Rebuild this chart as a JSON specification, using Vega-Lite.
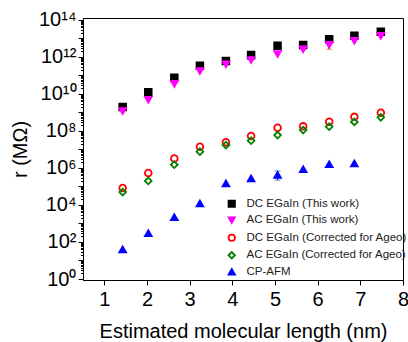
{
  "$schema": "https://vega.github.io/schema/vega-lite/v6.json",
  "width": 320,
  "height": 262,
  "autosize": {"type": "none"},
  "padding": {"left": 83, "top": 18, "right": 5, "bottom": 62},
  "background": "white",
  "config": {
    "view": {"stroke": "black", "strokeWidth": 1},
    "font": "Liberation Sans"
  },
  "datasets": {
    "pts": [
      {"L": 1.43, "series": "DC EGaIn (This work)", "r": 2.0e9},
      {"L": 2.03, "series": "DC EGaIn (This work)", "r": 1.26e10},
      {"L": 2.64, "series": "DC EGaIn (This work)", "r": 7.6e10},
      {"L": 3.24, "series": "DC EGaIn (This work)", "r": 3.4e11},
      {"L": 3.85, "series": "DC EGaIn (This work)", "r": 6.0e11},
      {"L": 4.44, "series": "DC EGaIn (This work)", "r": 1.26e12},
      {"L": 5.06, "series": "DC EGaIn (This work)", "r": 4.0e12},
      {"L": 5.66, "series": "DC EGaIn (This work)", "r": 4.5e12},
      {"L": 6.27, "series": "DC EGaIn (This work)", "r": 9.1e12},
      {"L": 6.86, "series": "DC EGaIn (This work)", "r": 1.41e13},
      {"L": 7.48, "series": "DC EGaIn (This work)", "r": 2.34e13},
      {"L": 1.43, "series": "AC EGaIn (This work)", "r": 1.2e9},
      {"L": 2.03, "series": "AC EGaIn (This work)", "r": 4.9e9},
      {"L": 2.64, "series": "AC EGaIn (This work)", "r": 3.5e10},
      {"L": 3.24, "series": "AC EGaIn (This work)", "r": 1.74e11},
      {"L": 3.85, "series": "AC EGaIn (This work)", "r": 4.0e11},
      {"L": 4.44, "series": "AC EGaIn (This work)", "r": 6.9e11},
      {"L": 5.06, "series": "AC EGaIn (This work)", "r": 1.45e12},
      {"L": 5.66, "series": "AC EGaIn (This work)", "r": 2.6e12},
      {"L": 6.27, "series": "AC EGaIn (This work)", "r": 4.5e12},
      {"L": 6.86, "series": "AC EGaIn (This work)", "r": 7.6e12},
      {"L": 7.48, "series": "AC EGaIn (This work)", "r": 1.38e13},
      {"L": 1.43, "series": "DC EGaIn (Corrected for Ageo)", "r": 8.3e4},
      {"L": 2.03, "series": "DC EGaIn (Corrected for Ageo)", "r": 5.4e5},
      {"L": 2.64, "series": "DC EGaIn (Corrected for Ageo)", "r": 3.3e6},
      {"L": 3.24, "series": "DC EGaIn (Corrected for Ageo)", "r": 1.41e7},
      {"L": 3.85, "series": "DC EGaIn (Corrected for Ageo)", "r": 2.45e7},
      {"L": 4.44, "series": "DC EGaIn (Corrected for Ageo)", "r": 5.4e7},
      {"L": 5.06, "series": "DC EGaIn (Corrected for Ageo)", "r": 1.51e8},
      {"L": 5.66, "series": "DC EGaIn (Corrected for Ageo)", "r": 1.78e8},
      {"L": 6.27, "series": "DC EGaIn (Corrected for Ageo)", "r": 3.2e8},
      {"L": 6.86, "series": "DC EGaIn (Corrected for Ageo)", "r": 5.8e8},
      {"L": 7.48, "series": "DC EGaIn (Corrected for Ageo)", "r": 9.8e8},
      {"L": 1.43, "series": "AC EGaIn (Corrected for Ageo)", "r": 5.0e4},
      {"L": 2.03, "series": "AC EGaIn (Corrected for Ageo)", "r": 2.0e5},
      {"L": 2.64, "series": "AC EGaIn (Corrected for Ageo)", "r": 1.51e6},
      {"L": 3.24, "series": "AC EGaIn (Corrected for Ageo)", "r": 7.6e6},
      {"L": 3.85, "series": "AC EGaIn (Corrected for Ageo)", "r": 1.74e7},
      {"L": 4.44, "series": "AC EGaIn (Corrected for Ageo)", "r": 3.0e7},
      {"L": 5.06, "series": "AC EGaIn (Corrected for Ageo)", "r": 6.0e7},
      {"L": 5.66, "series": "AC EGaIn (Corrected for Ageo)", "r": 1.12e8},
      {"L": 6.27, "series": "AC EGaIn (Corrected for Ageo)", "r": 1.7e8},
      {"L": 6.86, "series": "AC EGaIn (Corrected for Ageo)", "r": 3.1e8},
      {"L": 7.48, "series": "AC EGaIn (Corrected for Ageo)", "r": 5.5e8},
      {"L": 1.43, "series": "CP-AFM", "r": 40},
      {"L": 2.03, "series": "CP-AFM", "r": 295},
      {"L": 2.64, "series": "CP-AFM", "r": 2190},
      {"L": 3.24, "series": "CP-AFM", "r": 1.23e4},
      {"L": 3.85, "series": "CP-AFM", "r": 1.48e5},
      {"L": 4.44, "series": "CP-AFM", "r": 2.75e5},
      {"L": 5.06, "series": "CP-AFM", "r": 4.2e5},
      {"L": 5.66, "series": "CP-AFM", "r": 8.5e5},
      {"L": 6.27, "series": "CP-AFM", "r": 1.58e6},
      {"L": 6.86, "series": "CP-AFM", "r": 1.78e6}
    ],
    "errs": [
      {"L": 6.27, "series": "DC EGaIn (This work)", "lo": 2.6e12, "hi": 1.15e13},
      {"L": 5.06, "series": "CP-AFM", "lo": 2.2e5, "hi": 6.9e5}
    ]
  },
  "layer": [
    {
      "data": {"name": "errs"},
      "mark": {"type": "rule", "strokeWidth": 1.2},
      "encoding": {
        "x": {"field": "L", "type": "quantitative", "scale": {"domain": [0.5, 8]}},
        "y": {"field": "lo", "type": "quantitative", "scale": {"type": "log"}},
        "y2": {"field": "hi"},
        "color": {"field": "series", "type": "nominal", "scale": {"domain": ["DC EGaIn (This work)", "CP-AFM"], "range": ["#000000", "#0000ff"]}, "legend": null}
      }
    },
    {
      "data": {"name": "errs"},
      "mark": {"type": "tick", "orient": "horizontal", "size": 6, "thickness": 1.2},
      "encoding": {
        "x": {"field": "L", "type": "quantitative"},
        "y": {"field": "lo", "type": "quantitative"},
        "color": {"field": "series", "type": "nominal", "legend": null}
      }
    },
    {
      "data": {"name": "errs"},
      "mark": {"type": "tick", "orient": "horizontal", "size": 6, "thickness": 1.2},
      "encoding": {
        "x": {"field": "L", "type": "quantitative"},
        "y": {"field": "hi", "type": "quantitative"},
        "color": {"field": "series", "type": "nominal", "legend": null}
      }
    },
    {
      "data": {"name": "pts"},
      "mark": {"type": "point", "size": 45, "strokeWidth": 1.8, "opacity": 1},
      "encoding": {
        "x": {
          "field": "L", "type": "quantitative",
          "scale": {"domain": [0.5, 8], "nice": false, "zero": false},
          "axis": {
            "title": "Estimated molecular length (nm)",
            "titleFontSize": 20, "titleFont": "Liberation Sans", "titleFontWeight": "normal", "titleColor": "black", "titlePadding": 12,
            "values": [1, 1.5, 2, 2.5, 3, 3.5, 4, 4.5, 5, 5.5, 6, 6.5, 7, 7.5, 8],
            "labelExpr": "datum.value % 1 == 0 ? datum.label : ''",
            "labelFontSize": 20, "labelFont": "Liberation Sans", "labelColor": "black", "labelPadding": 4,
            "tickSize": {"condition": {"test": "datum.value % 1 == 0", "value": 5}, "value": 3},
            "tickColor": "black", "domainColor": "black", "grid": false, "labelOverlap": false, "labelFlush": false
          }
        },
        "y": {
          "field": "r", "type": "quantitative",
          "scale": {"type": "log", "domain": [0.883, 1.28e14], "nice": false},
          "axis": {
            "title": "r (MΩ)",
            "titleFontSize": 20, "titleFont": "Liberation Sans", "titleFontWeight": "normal", "titleColor": "black", "titlePadding": 8,
            "values": [1,2,3,4,5,6,7,8,9,1e1,2e1,3e1,4e1,5e1,6e1,7e1,8e1,9e1,1e2,2e2,3e2,4e2,5e2,6e2,7e2,8e2,9e2,1e3,2e3,3e3,4e3,5e3,6e3,7e3,8e3,9e3,1e4,2e4,3e4,4e4,5e4,6e4,7e4,8e4,9e4,1e5,2e5,3e5,4e5,5e5,6e5,7e5,8e5,9e5,1e6,2e6,3e6,4e6,5e6,6e6,7e6,8e6,9e6,1e7,2e7,3e7,4e7,5e7,6e7,7e7,8e7,9e7,1e8,2e8,3e8,4e8,5e8,6e8,7e8,8e8,9e8,1e9,2e9,3e9,4e9,5e9,6e9,7e9,8e9,9e9,1e10,2e10,3e10,4e10,5e10,6e10,7e10,8e10,9e10,1e11,2e11,3e11,4e11,5e11,6e11,7e11,8e11,9e11,1e12,2e12,3e12,4e12,5e12,6e12,7e12,8e12,9e12,1e13,2e13,3e13,4e13,5e13,6e13,7e13,8e13,9e13,1e14],
            "labelExpr": "abs(log(datum.value)/LN10 - round(log(datum.value)/LN10)) < 0.001 && round(log(datum.value)/LN10) % 2 == 0 ? '10' + ['⁰','¹','²','³','⁴','⁵','⁶','⁷','⁸','⁹','¹⁰','¹¹','¹²','¹³','¹⁴'][round(log(datum.value)/LN10)] : ''",
            "labelFontSize": 20, "labelFont": "Liberation Sans", "labelColor": "black", "labelPadding": 2,
            "tickSize": {"condition": {"test": "abs(log(datum.value)/LN10 - round(log(datum.value)/LN10)) < 0.001", "value": 5}, "value": 2.5},
            "tickColor": "black", "domainColor": "black", "grid": false, "labelOverlap": false, "labelFlush": false
          }
        },
        "shape": {
          "field": "series", "type": "nominal",
          "scale": {"domain": ["DC EGaIn (This work)", "AC EGaIn (This work)", "DC EGaIn (Corrected for Ageo)", "AC EGaIn (Corrected for Ageo)", "CP-AFM"],
                    "range": ["square", "triangle-down", "circle", "diamond", "triangle-up"]},
          "legend": {
            "title": null, "orient": "none", "legendX": 143, "legendY": 180,
            "labelFontSize": 11.5, "labelFont": "Liberation Sans", "labelColor": "#222222",
            "symbolSize": 40, "symbolStrokeWidth": 1.8, "rowPadding": 2.5, "labelOffset": 9, "labelLimit": 300
          }
        },
        "stroke": {
          "field": "series", "type": "nominal",
          "scale": {"domain": ["DC EGaIn (This work)", "AC EGaIn (This work)", "DC EGaIn (Corrected for Ageo)", "AC EGaIn (Corrected for Ageo)", "CP-AFM"],
                    "range": ["#000000", "#ff00ff", "#ff0000", "#008000", "#0000ff"]},
          "legend": {
            "title": null, "orient": "none", "legendX": 143, "legendY": 180,
            "labelFontSize": 11.5, "labelFont": "Liberation Sans", "labelColor": "#222222",
            "symbolSize": 40, "symbolStrokeWidth": 1.8, "rowPadding": 2.5, "labelOffset": 9, "labelLimit": 300
          }
        },
        "fill": {
          "field": "series", "type": "nominal",
          "scale": {"domain": ["DC EGaIn (This work)", "AC EGaIn (This work)", "DC EGaIn (Corrected for Ageo)", "AC EGaIn (Corrected for Ageo)", "CP-AFM"],
                    "range": ["#000000", "#ff00ff", "transparent", "transparent", "#0000ff"]},
          "legend": {
            "title": null, "orient": "none", "legendX": 143, "legendY": 180,
            "labelFontSize": 11.5, "labelFont": "Liberation Sans", "labelColor": "#222222",
            "symbolSize": 40, "symbolStrokeWidth": 1.8, "rowPadding": 2.5, "labelOffset": 9, "labelLimit": 300
          }
        }
      }
    }
  ],
  "resolve": {"scale": {"color": "independent"}}
}
